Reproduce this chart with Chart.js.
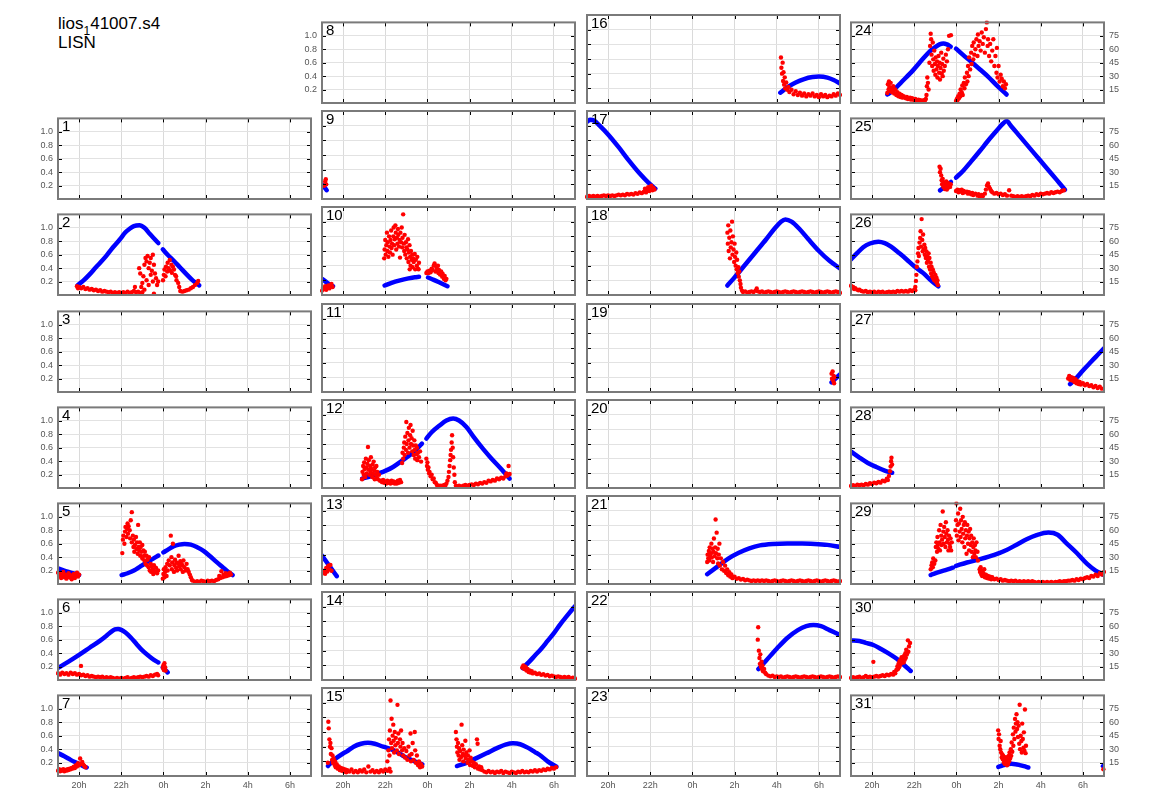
<!DOCTYPE html>
<html>
<head>
<meta charset="utf-8">
<script src="https://cdn.jsdelivr.net/npm/chart.js@4.4.1/dist/chart.umd.min.js"></script>
<style>
html,body{margin:0;padding:0;background:#fff;}
#wrap{position:relative;width:1150px;height:800px;background:#fff;overflow:hidden;}
#wrap canvas{position:absolute;}
#title{position:absolute;left:58px;top:14px;font:17px 'Liberation Sans',Arial,sans-serif;color:#000;line-height:19px;}
#title sub{font-size:12px;vertical-align:-6px;line-height:0;}
</style>
</head>
<body>
<div id="wrap">
<div id="title">lios<sub>1</sub>41007.s4<br>LISN</div>
</div>
<script>
// ---------- axis ticks ----------
const xTickValues=[20,22,24,26,28,30];
const xTickLabels=['20h','22h','0h','2h','4h','6h'];
const yTickValues=[0.2,0.4,0.6,0.8,1.0];
const yTickLabels=['0.2','0.4','0.6','0.8','1.0'];
const y2TickValues=[15,30,45,60,75];
const y2TickLabels=['15','30','45','60','75'];
const dayNumbers=[1,2,3,4,5,6,7,8,9,10,11,12,13,14,15,16,17,18,19,20,21,22,23,24,25,26,27,28,29,30,31];

// ---------- data: red = S4 (left axis), blue = elevation (right axis), x = hour (0h = 24) ----------
const s4_01=[]; const el_01=[];
const s4_02=[[19.9,.13],[19.95,.10],[20.0,.12],[20.1,.10],[20.2,.12],[20.3,.09],[20.4,.10],[20.5,.08],[20.6,.09],[20.7,.07],[20.8,.08],[20.9,.06],[21.0,.07],[21.1,.05],[21.2,.06],[21.3,.05],[21.4,.04],[21.5,.05],[21.6,.03],[21.7,.04],[21.8,.03],[21.9,.04],[22.0,.03],[22.1,.04],[22.2,.03],[22.3,.05],[22.4,.03],[22.5,.04],[22.6,.06],[22.65,.12],[22.7,.04],[22.8,.05],[22.9,.03],[23.0,.04],
[22.85,.40],[22.9,.32],[22.95,.12],[23.0,.18],[23.05,.28],[23.1,.08],[23.1,.45],[23.15,.55],[23.2,.50],[23.2,.22],[23.25,.58],[23.3,.40],[23.3,.15],[23.35,.48],[23.4,.55],[23.4,.30],[23.45,.36],[23.5,.60],[23.5,.20],[23.55,.45],[23.55,.02],[23.6,.32],[23.65,.25],[23.7,.15],[23.75,.20],
[23.98,.22],[24.02,.30],[24.05,.38],[24.1,.28],[24.12,.42],[24.18,.35],[24.2,.48],[24.25,.40],[24.3,.52],[24.32,.36],[24.38,.45],[24.4,.33],[24.45,.42],[24.5,.38],[24.55,.30],[24.6,.28],[24.62,.22],[24.7,.18],[24.75,.12],
[24.8,.06],[24.9,.05],[25.0,.06],[25.1,.07],[25.2,.08],[25.3,.10],[25.4,.12],[25.5,.15],[25.6,.18],[25.65,.21]];
const el_02=[[19.92,10.7],[20.2,16],[20.5,23],[20.8,31],[21.0,36],[21.3,44],[21.6,53],[21.93,62],[22.2,70],[22.4,74],[22.6,77],[22.86,78],[23.1,75],[23.36,68],[23.6,62],[23.76,58],null,[23.97,51],[24.2,45],[24.5,38],[24.78,31],[25.1,23],[25.4,16],[25.7,10.7]];
const s4_03=[]; const el_03=[];
const s4_04=[]; const el_04=[];
const s4_05=[[19.0,.17],[19.05,.12],[19.1,.15],[19.15,.09],[19.2,.13],[19.25,.18],[19.3,.10],[19.35,.14],[19.4,.08],[19.45,.12],[19.5,.16],[19.55,.10],[19.6,.13],[19.65,.07],[19.7,.11],[19.75,.15],[19.8,.09],[19.85,.12],[19.9,.17],[19.95,.11],[20.0,.14],
[22.05,.46],[22.08,.66],[22.1,.72],[22.15,.60],[22.18,.78],[22.2,.85],[22.25,.70],[22.28,.82],[22.3,.90],[22.32,.75],[22.35,.86],[22.4,.80],[22.42,.68],[22.45,.95],[22.5,1.07],[22.5,.62],[22.55,.72],[22.58,.55],[22.6,.66],[22.62,.48],[22.65,.58],[22.7,.70],[22.72,.52],[22.75,.62],[22.78,.45],[22.8,.88],[22.82,.55],[22.85,.50],[22.88,.62],[22.9,.42],[22.92,.55],[22.95,.48],[23.0,.58],[23.0,.38],[23.05,.50],[23.08,.42],[23.1,.35],[23.12,.48],[23.15,.30],[23.2,.42],[23.22,.28],[23.25,.36],[23.3,.25],[23.32,.40],[23.35,.20],[23.4,.30],[23.42,.18],[23.45,.26],[23.5,.22],[23.52,.15],[23.55,.28],[23.6,.18],[23.65,.24],[23.7,.16],[23.75,.20],
[23.97,.08],[24.0,.15],[24.02,.22],[24.05,.10],[24.08,.18],[24.1,.25],[24.15,.12],[24.18,.30],[24.2,.20],[24.25,.35],[24.3,.28],[24.35,.72],[24.38,.40],[24.4,.22],[24.42,.32],[24.45,.60],[24.5,.18],[24.52,.28],[24.55,.36],[24.6,.24],[24.62,.32],[24.65,.20],[24.7,.30],[24.72,.42],[24.75,.26],[24.8,.34],[24.82,.22],[24.85,.30],[24.9,.28],[24.92,.18],[24.95,.35],[25.0,.25],[25.05,.20],[25.1,.30],[25.15,.22],[25.2,.18],[25.25,.14],[25.3,.10],[25.35,.06],
[25.4,.05],[25.5,.03],[25.6,.04],[25.7,.03],[25.8,.05],[25.9,.04],[26.0,.03],[26.1,.05],[26.2,.04],[26.3,.05],[26.4,.04],[26.5,.06],[26.6,.07],[26.65,.12],[26.7,.09],[26.75,.19],[26.8,.10],[26.85,.14],[26.9,.11],[26.95,.16],[27.0,.12],[27.05,.15],[27.1,.13],[27.15,.17],[27.2,.14]];
const el_05=[[19.0,17.5],[19.5,13.5],[20.0,10],null,[22.02,10],[22.3,12],[22.6,15],[22.88,19.2],[23.2,24],[23.5,28],[23.76,31.8],null,[24.0,35.3],[24.25,39],[24.47,42],[24.75,44],[25.0,44.8],[25.3,44],[25.6,41],[25.9,37],[26.2,31.2],[26.5,25],[26.8,19],[27.05,14],[27.28,10]];
const s4_06=[[19.0,.10],[19.1,.08],[19.2,.11],[19.3,.09],[19.4,.10],[19.5,.08],[19.6,.11],[19.7,.09],[19.8,.10],[19.9,.08],[20.0,.09],[20.09,.21],[20.1,.07],[20.2,.08],[20.3,.06],[20.4,.07],[20.5,.05],[20.6,.06],[20.7,.05],[20.8,.04],[20.9,.05],[21.0,.04],[21.1,.05],[21.2,.03],[21.3,.04],[21.4,.03],[21.5,.04],[21.6,.03],[21.7,.02],[21.8,.03],[21.9,.02],[22.0,.03],[22.1,.02],[22.2,.03],[22.3,.04],[22.4,.02],[22.5,.03],[22.6,.04],[22.7,.03],[22.8,.04],[22.9,.05],[23.0,.04],[23.1,.05],[23.2,.06],[23.3,.05],[23.4,.07],[23.5,.06],[23.6,.08],[23.7,.09],[23.75,.07],
[23.98,.18],[24.0,.22],[24.02,.15],[24.05,.25],[24.08,.19],[24.1,.14]];
const el_06=[[19.0,13.5],[19.5,20.5],[20.0,28],[20.5,36],[21.0,44],[21.3,49.5],[21.5,53.5],[21.7,56.5],[21.85,57],[22.0,56],[22.2,53],[22.45,47.5],[22.73,40],[23.0,33],[23.3,27],[23.55,22.5],[23.76,19.6],null,[23.97,14],[24.1,11],[24.2,8.5]];
const s4_07=[[19.0,.08],[19.05,.10],[19.1,.07],[19.15,.09],[19.2,.08],[19.25,.10],[19.3,.07],[19.35,.09],[19.4,.08],[19.45,.10],[19.5,.09],[19.55,.11],[19.6,.10],[19.65,.12],[19.7,.11],[19.75,.14],[19.8,.12],[19.85,.16],[19.9,.14],[19.95,.19],[20.0,.16],[20.05,.26],[20.1,.18],[20.15,.21],[20.2,.17],[20.25,.15],[20.3,.13]];
const el_07=[[19.0,25.6],[19.3,22],[19.6,18],[19.9,14.5],[20.2,11],[20.36,9.5]];
const s4_08=[]; const el_08=[];
const s4_09=[[19.1,.18],[19.15,.24],[19.18,.27],[19.2,.20]];
const el_09=[[19.0,15],[19.12,12],[19.22,9]];
const s4_10=[[19.0,.06],[19.05,.10],[19.1,.08],[19.15,.12],[19.2,.07],[19.25,.10],[19.3,.13],[19.35,.09],[19.4,.12],[19.45,.15],[19.5,.11],
[21.95,.50],[21.97,.62],[22.0,.75],[22.02,.55],[22.05,.68],[22.08,.85],[22.1,.60],[22.12,.72],[22.15,.52],[22.18,.80],[22.2,.66],[22.22,.58],[22.25,.75],[22.28,.88],[22.3,.64],[22.32,.70],[22.35,.55],[22.38,.80],[22.4,.92],[22.42,.68],[22.45,.76],[22.48,.95],[22.5,.85],[22.52,.62],[22.55,.78],[22.58,.70],[22.6,.90],[22.62,.82],[22.65,.66],[22.68,.75],[22.7,.51],[22.72,.85],[22.75,.72],[22.78,.92],[22.8,.65],[22.82,.78],[22.85,1.1],[22.88,.70],[22.9,.60],[22.92,.82],[22.95,.55],[22.98,.72],[23.0,.65],[23.02,.50],[23.05,.62],[23.08,.76],[23.1,.45],[23.12,.58],[23.15,.68],[23.16,.35],[23.18,.52],[23.2,.40],[23.22,.60],[23.25,.48],[23.28,.55],[23.3,.38],[23.32,.50],[23.35,.45],[23.4,.56],[23.42,.35],[23.45,.48],[23.5,.40],[23.52,.52],[23.55,.36],[23.58,.35],[23.6,.44],
[23.95,.30],[24.0,.32],[24.05,.30],[24.1,.33],[24.15,.31],[24.2,.36],[24.25,.34],[24.3,.40],[24.34,.43],[24.38,.32],[24.42,.39],[24.45,.36],[24.5,.40],[24.52,.30],[24.55,.34],[24.6,.28],[24.65,.32],[24.7,.25],[24.72,.29],[24.78,.22],[24.82,.26],[24.86,.20],[24.9,.22]];
const el_10=[[19.0,16.6],[19.25,12.5],[19.52,9],null,[21.97,9.7],[22.3,12.5],[22.7,15],[23.1,17],[23.4,18.2],[23.6,18.6],null,[24.03,17.9],[24.3,15.5],[24.6,12.5],[24.95,9]];
const s4_11=[]; const el_11=[];
const s4_12=[[20.9,.12],[20.92,.22],[20.95,.30],[20.98,.18],[21.0,.35],[21.02,.26],[21.05,.15],[21.08,.40],[21.1,.28],[21.12,.20],[21.15,.33],[21.18,.56],[21.2,.25],[21.22,.38],[21.25,.18],[21.28,.30],[21.3,.22],[21.32,.42],[21.35,.26],[21.38,.15],[21.4,.32],[21.42,.20],[21.45,.36],[21.48,.24],[21.5,.12],[21.52,.28],[21.55,.18],[21.58,.30],[21.6,.14],[21.62,.22],[21.65,.12],[21.7,.18],[21.75,.10],
[21.8,.10],[21.85,.08],[21.9,.11],[21.95,.07],[22.0,.09],[22.05,.06],[22.1,.10],[22.15,.07],[22.2,.09],[22.25,.06],[22.3,.10],[22.35,.07],[22.4,.09],[22.45,.06],[22.5,.08],[22.55,.06],[22.6,.10],[22.65,.07],[22.7,.11],[22.75,.08],
[22.8,.34],[22.82,.48],[22.85,.40],[22.88,.55],[22.9,.62],[22.92,.45],[22.95,.70],[22.98,.52],[23.0,.90],[23.02,.60],[23.05,.75],[23.08,.48],[23.1,.65],[23.12,.82],[23.15,.55],[23.18,.72],[23.2,.86],[23.22,.60],[23.25,.68],[23.28,.50],[23.3,.78],[23.32,.58],[23.35,.45],[23.38,.65],[23.4,.52],[23.42,.40],[23.45,.58],[23.48,.46],[23.5,.55],[23.52,.38],[23.55,.48],[23.6,.42],[23.65,.50],[23.7,.36],
[23.95,.40],[23.98,.30],[24.0,.35],[24.02,.25],[24.05,.28],[24.08,.20],[24.1,.22],[24.15,.16],[24.2,.18],[24.25,.12],[24.3,.13],[24.35,.08],[24.4,.07],[24.45,.04],[24.5,.03],[24.55,.02],[24.6,.03],[24.65,.02],[24.7,.03],[24.75,.02],[24.8,.04],[24.85,.03],[24.9,.06],[24.95,.10],
[25.0,.15],[25.02,.22],[25.05,.30],[25.08,.38],[25.1,.45],[25.12,.52],[25.15,.62],[25.17,.72],[25.2,.55],[25.22,.42],[25.25,.28],[25.28,.18],[25.3,.08],
[25.35,.03],[25.4,.02],[25.5,.03],[25.6,.02],[25.7,.03],[25.8,.04],[25.9,.03],[26.0,.04],[26.1,.05],[26.2,.04],[26.3,.06],[26.4,.05],[26.5,.07],[26.6,.06],[26.7,.08],[26.8,.07],[26.9,.10],[27.0,.09],[27.1,.11],[27.2,.10],[27.3,.13],[27.4,.12],[27.5,.14],[27.6,.13],[27.7,.16],[27.75,.20],[27.8,.17],[27.85,.30],[27.9,.19]];
const el_12=[[20.9,9.6],[21.3,12],[21.7,15],[22.0,17.5],[22.37,21.5],[22.8,28],[23.16,33.4],[23.45,39],[23.74,45.4],null,[23.95,50.5],[24.2,57],[24.58,64],[24.9,69],[25.22,71],[25.5,69],[25.85,62.4],[26.2,52],[26.64,40],[27.0,31],[27.5,19.5],[27.9,9.6]];
const s4_13=[[19.05,.15],[19.1,.18],[19.15,.14],[19.2,.22],[19.25,.17],[19.3,.25],[19.35,.20],[19.4,.26],[19.45,.18]];
const el_13=[[19.0,29],[19.2,23],[19.4,17],[19.6,11],[19.7,8]];
const s4_14=[[28.5,.17],[28.55,.20],[28.6,.15],[28.65,.18],[28.7,.13],[28.75,.15],[28.8,.11],[28.85,.13],[28.9,.10],[28.95,.12],[29.0,.09],[29.1,.10],[29.2,.08],[29.3,.09],[29.4,.07],[29.5,.08],[29.6,.06],[29.7,.07],[29.8,.05],[29.9,.06],[30.0,.05],[30.1,.04],[30.2,.05],[30.3,.04],[30.4,.03],[30.5,.04],[30.6,.03],[30.7,.04],[30.8,.02],[30.9,.03],[31.0,.02]];
const el_14=[[28.52,12.2],[28.8,18],[29.1,25],[29.4,32],[29.7,40],[30.0,48],[30.3,57],[30.6,65],[31.0,75.6]];
const s4_15=[[19.28,.18],[19.3,.74],[19.32,.65],[19.35,.50],[19.38,.40],[19.4,.45],[19.42,.30],[19.45,.38],[19.48,.22],[19.5,.28],[19.52,.18],[19.55,.24],[19.6,.15],[19.62,.20],[19.65,.12],[19.7,.16],[19.75,.10],
[19.8,.13],[19.85,.08],[19.9,.11],[19.95,.07],[20.0,.10],[20.05,.06],[20.1,.09],[20.15,.05],[20.2,.08],[20.3,.06],[20.4,.09],[20.5,.05],[20.6,.07],[20.7,.05],[20.8,.08],[20.9,.06],[21.0,.09],[21.1,.05],[21.2,.13],[21.3,.06],[21.4,.08],[21.5,.05],[21.6,.07],[21.7,.05],[21.8,.08],[21.9,.06],[22.0,.09],[22.1,.07],[22.2,.10],[22.25,.06],
[22.1,.20],[22.15,.35],[22.18,.50],[22.2,.28],[22.22,.62],[22.25,1.03],[22.28,.45],[22.3,.78],[22.32,.38],[22.35,.55],[22.38,.70],[22.4,.48],[22.42,.32],[22.45,.60],[22.48,.42],[22.5,.52],[22.55,.35],[22.58,.97],[22.6,.45],[22.62,.58],[22.65,.30],[22.7,.50],[22.72,.40],[22.75,.62],[22.8,.35],[22.82,.45],[22.85,.28],[22.9,.38],[22.95,.25],[23.0,.34],[23.05,.22],[23.1,.40],[23.15,.28],[23.2,.58],[23.22,.20],[23.25,.30],[23.3,.45],[23.35,.22],[23.4,.60],[23.42,.35],[23.45,.18],[23.5,.28],[23.55,.15],[23.6,.20],[23.65,.12],[23.7,.16],[23.75,.13],
[25.35,.60],[25.38,.50],[25.4,.40],[25.42,.32],[25.45,.45],[25.48,.28],[25.5,.38],[25.52,.22],[25.55,.34],[25.6,.26],[25.62,.70],[25.65,.42],[25.68,.30],[25.7,.20],[25.72,.36],[25.75,.28],[25.8,.48],[25.82,.24],[25.85,.32],[25.9,.18],[25.92,.28],[25.95,.22],[26.0,.35],[26.02,.15],[26.05,.25],[26.1,.20],[26.15,.14],[26.2,.18],[26.25,.12],[26.3,.16],[26.35,.50],[26.38,.44],[26.4,.10],[26.45,.13],[26.5,.09],[26.55,.12],[26.6,.08],
[26.7,.06],[26.8,.05],[26.9,.07],[27.0,.05],[27.1,.06],[27.2,.04],[27.3,.06],[27.4,.05],[27.5,.07],[27.6,.04],[27.7,.06],[27.8,.05],[27.9,.04],[28.0,.06],[28.1,.05],[28.2,.04],[28.3,.06],[28.4,.05],[28.5,.07],[28.6,.05],[28.7,.06],[28.8,.05],[28.9,.07],[29.0,.06],[29.1,.08],[29.2,.06],[29.3,.08],[29.4,.07],[29.5,.09],[29.6,.08],[29.7,.10],[29.8,.09],[29.9,.11],[30.0,.10],[30.1,.12]];
const el_15=[[19.28,10.2],[19.6,17],[20.0,23],[20.16,24.9],[20.5,30],[20.85,33],[21.18,34],[21.5,33],[21.9,30],[22.2,28],[22.53,24.9],[22.9,20],[23.3,16],[23.76,11.9],null,[25.4,10.2],[25.8,13],[26.3,18],[26.8,23.2],[27.3,28.5],[27.7,32],[28.06,33.4],[28.4,32.5],[28.8,28.5],[29.1,24.5],[29.33,21.5],[29.7,15],[30.12,9.5]];
const s4_16=[[28.2,.62],[28.22,.48],[28.25,.40],[28.28,.55],[28.3,.30],[28.32,.42],[28.35,.25],[28.38,.35],[28.4,.20],[28.45,.28],[28.5,.18],[28.55,.22],[28.6,.15],[28.7,.18],[28.8,.12],[28.9,.16],[29.0,.11],[29.1,.14],[29.2,.10],[29.3,.13],[29.4,.09],[29.5,.12],[29.6,.10],[29.7,.13],[29.8,.09],[29.9,.11],[30.0,.08],[30.1,.12],[30.2,.09],[30.3,.11],[30.4,.08],[30.5,.10],[30.6,.09],[30.7,.12],[30.8,.10],[30.9,.13],[31.0,.11]];
const el_16=[[28.17,10.5],[28.5,16],[28.9,21],[29.3,24.5],[29.7,26.5],[30.0,27],[30.4,26],[30.7,23.5],[31.0,20]];
const s4_17=[[19.0,.03],[19.1,.04],[19.2,.03],[19.3,.04],[19.4,.03],[19.5,.04],[19.6,.03],[19.7,.04],[19.8,.05],[19.9,.04],[20.0,.05],[20.1,.04],[20.2,.05],[20.3,.04],[20.4,.05],[20.5,.06],[20.6,.05],[20.7,.06],[20.8,.05],[20.9,.07],[21.0,.06],[21.1,.07],[21.2,.06],[21.3,.08],[21.4,.07],[21.5,.09],[21.6,.08],[21.7,.10],[21.75,.14],[21.8,.09],[21.85,.12],[21.9,.16],[21.95,.11],[22.0,.14],[22.05,.18],[22.1,.12],[22.15,.15],[22.2,.13]];
const el_17=[[19.0,79],[19.15,81],[19.35,80],[19.6,75],[20.0,66],[20.5,53],[21.0,39],[21.5,26],[21.9,17],[22.24,10.6]];
const s4_18=[[25.66,.85],[25.68,.70],[25.7,.95],[25.72,.60],[25.75,.78],[25.78,.50],[25.8,.88],[25.82,.65],[25.85,.72],[25.88,1.0],[25.9,.55],[25.92,.80],[25.95,.62],[25.98,.45],[26.0,.70],[26.02,.52],[26.05,.40],[26.08,.58],[26.1,.35],[26.12,.48],[26.15,.30],[26.18,.38],[26.2,.25],[26.22,.32],[26.25,.20],[26.28,.15],[26.3,.10],[26.35,.06],
[26.4,.04],[26.5,.05],[26.6,.03],[26.7,.04],[26.8,.05],[26.9,.04],[27.0,.06],[27.05,.09],[27.1,.05],[27.2,.04],[27.3,.05],[27.4,.03],[27.5,.04],[27.6,.05],[27.7,.04],[27.8,.03],[27.9,.04],[28.0,.05],[28.1,.04],[28.2,.03],[28.3,.04],[28.4,.05],[28.5,.04],[28.6,.03],[28.7,.04],[28.8,.05],[28.9,.04],[29.0,.03],[29.1,.04],[29.2,.05],[29.3,.04],[29.4,.03],[29.5,.04],[29.6,.05],[29.7,.04],[29.8,.03],[29.9,.04],[30.0,.05],[30.1,.04],[30.2,.03],[30.3,.04],[30.4,.05],[30.5,.04],[30.6,.03],[30.7,.04],[30.8,.05],[30.9,.04],[31.0,.03]];
const el_18=[[25.66,9.7],[26.0,18],[26.5,31],[27.0,44],[27.5,57],[27.9,68],[28.2,75],[28.41,77.2],[28.7,75],[29.1,67],[29.5,57],[30.0,45],[30.5,35],[31.0,27.1]];
const s4_19=[[30.6,.25],[30.62,.18],[30.65,.28],[30.68,.15],[30.7,.22],[30.72,.12],[30.75,.20]];
const el_19=[[30.6,9.8],[30.8,14],[31.0,18]];
const s4_20=[]; const el_20=[];
const s4_21=[[24.7,.30],[24.72,.40],[24.75,.35],[24.78,.45],[24.8,.32],[24.82,.50],[24.85,.38],[24.88,.42],[24.9,.55],[24.92,.36],[24.95,.48],[24.98,.30],[25.0,.44],[25.02,.62],[25.05,.38],[25.08,.50],[25.1,.88],[25.12,.42],[25.15,.70],[25.18,.35],[25.2,.48],[25.22,.28],[25.25,.40],[25.28,.55],[25.3,.25],[25.35,.35],[25.4,.20],[25.45,.30],[25.5,.18],[25.55,.25],[25.6,.15],[25.65,.20],[25.7,.12],[25.75,.16],[25.8,.10],[25.85,.13],[25.9,.08],[26.0,.10],[26.1,.07],[26.2,.08],[26.3,.06],[26.4,.07],[26.5,.05],[26.6,.06],[26.7,.05],[26.8,.04],[26.9,.05],[27.0,.04],[27.1,.05],[27.2,.04],[27.3,.05],[27.4,.04],[27.5,.05],[27.6,.04],[27.7,.03],[27.8,.04],[27.9,.05],[28.0,.04],[28.1,.03],[28.2,.04],[28.3,.05],[28.4,.04],[28.5,.03],[28.6,.04],[28.7,.05],[28.8,.04],[28.9,.03],[29.0,.04],[29.1,.05],[29.2,.04],[29.3,.03],[29.4,.04],[29.5,.05],[29.6,.04],[29.7,.03],[29.8,.04],[29.9,.05],[30.0,.04],[30.1,.03],[30.2,.04],[30.3,.05],[30.4,.04],[30.5,.03],[30.6,.04],[30.7,.05],[30.8,.04],[30.9,.03],[31.0,.04]];
const el_21=[[24.7,10],[25.2,18],[25.7,26],[26.2,32],[26.7,36.5],[27.2,39.5],[27.8,41],[28.5,41.5],[29.2,41.5],[29.8,41],[30.4,40],[31.0,38]];
const s4_22=[[27.1,.55],[27.12,.72],[27.15,.40],[27.18,.30],[27.2,.22],[27.22,.35],[27.25,.18],[27.28,.25],[27.3,.15],[27.32,.20],[27.35,.12],[27.4,.15],[27.45,.10],[27.5,.08],[27.6,.06],[27.7,.05],[27.8,.06],[27.9,.04],[28.0,.05],[28.1,.04],[28.2,.05],[28.3,.03],[28.4,.04],[28.5,.05],[28.6,.04],[28.7,.03],[28.8,.04],[28.9,.05],[29.0,.04],[29.1,.03],[29.2,.04],[29.3,.05],[29.4,.04],[29.5,.03],[29.6,.04],[29.7,.05],[29.8,.04],[29.9,.03],[30.0,.04],[30.1,.05],[30.2,.04],[30.3,.03],[30.4,.04],[30.5,.05],[30.6,.04],[30.7,.03],[30.8,.04],[30.9,.05],[31.0,.04]];
const el_22=[[27.13,11.2],[27.5,20],[28.0,32],[28.5,43],[29.0,51],[29.4,55],[29.74,56.2],[30.1,55],[30.5,51],[31.0,46]];
const s4_23=[]; const el_23=[];
const s4_24=[[20.72,.15],[20.75,.28],[20.78,.20],[20.8,.32],[20.82,.24],[20.85,.18],[20.88,.30],[20.9,.22],[20.95,.16],[21.0,.25],[21.02,.19],[21.05,.14],[21.1,.20],[21.15,.12],[21.2,.16],[21.25,.10],[21.3,.14],[21.35,.09],[21.4,.12],[21.45,.08],[21.5,.10],[21.6,.07],[21.65,.09],[21.7,.06],[21.8,.08],[21.85,.05],[21.9,.07],[22.0,.04],[22.05,.06],[22.1,.03],[22.2,.05],[22.25,.03],[22.3,.04],[22.4,.02],[22.45,.04],[22.5,.03],[22.55,.06],
[22.58,.12],[22.6,.25],[22.62,.38],[22.65,.30],[22.68,.20],
[22.72,.60],[22.75,.85],[22.78,1.03],[22.8,.95],[22.82,.72],[22.85,.55],[22.88,.90],[22.9,.65],[22.92,.48],[22.95,.78],[22.98,.58],[23.0,.42],[23.02,.68],[23.05,.50],[23.08,.62],[23.1,.38],[23.12,.55],[23.15,.70],[23.18,.45],[23.2,.60],[23.22,.35],[23.25,.52],[23.28,.75],[23.3,.44],[23.32,.58],[23.35,.40],[23.38,.66],[23.4,.48],[23.45,.55],[23.5,.72],[23.55,.62],[23.6,.80],[23.65,1.0],[23.74,1.01],
[23.98,.03],[24.02,.06],[24.05,.04],[24.08,.10],[24.12,.07],[24.15,.14],[24.18,.10],[24.2,.20],[24.25,.16],[24.28,.26],[24.3,.12],[24.35,.30],[24.38,.22],[24.4,.38],[24.45,.28],[24.5,.45],[24.52,.32],[24.55,.55],[24.58,.40],[24.6,.68],[24.65,.50],[24.7,.75],[24.72,.58],[24.75,.85],[24.8,.65],[24.82,.90],[24.85,.72],[24.9,.80],[24.95,.95],[25.0,.70],[25.02,1.02],[25.05,.85],[25.1,.92],[25.15,.78],[25.2,1.05],[25.25,.88],[25.3,.98],[25.35,.75],[25.4,1.1],[25.44,1.2],[25.48,.85],[25.5,.95],[25.55,.70],[25.6,.88],[25.65,.62],[25.7,.78],[25.75,.95],[25.8,.55],[25.85,.70],[25.9,.45],[25.92,.82],[25.95,.38],[26.0,.55],[26.05,.32],[26.1,.42],[26.15,.36],[26.2,.25],[26.25,.32],[26.3,.22],[26.35,.28]];
const el_24=[[20.72,9.5],[21.0,14],[21.4,23.5],[21.96,37],[22.4,49],[22.75,57.9],[23.0,62.5],[23.2,65.5],[23.38,66.5],[23.55,65.5],[23.73,63],null,[23.98,60.7],[24.3,54],[24.7,46],[25.12,37.4],[25.5,29.5],[25.9,20],[26.38,9.5]];
const s4_25=[[23.2,.48],[23.22,.40],[23.25,.45],[23.28,.35],[23.3,.28],[23.32,.22],[23.35,.30],[23.38,.18],[23.4,.25],[23.42,.20],[23.45,.15],[23.48,.22],[23.5,.18],[23.52,.26],[23.55,.14],[23.58,.20],[23.6,.24],[23.62,.17],[23.65,.21],[23.7,.18],[23.73,.22],
[23.98,.12],[24.05,.14],[24.1,.10],[24.15,.13],[24.2,.11],[24.25,.14],[24.3,.09],[24.35,.12],[24.4,.10],[24.5,.11],[24.55,.08],[24.6,.10],[24.7,.07],[24.75,.09],[24.8,.06],[24.9,.08],[25.0,.05],[25.05,.07],[25.1,.04],[25.2,.06],[25.25,.04],
[25.35,.08],[25.4,.14],[25.45,.20],[25.5,.23],[25.55,.18],[25.6,.15],[25.65,.12],[25.7,.10],[25.8,.08],[25.9,.09],[26.0,.07],[26.1,.08],[26.2,.06],[26.3,.07],[26.4,.05],[26.5,.13],[26.6,.05],[26.7,.04],[26.8,.03],[26.9,.04],[27.0,.03],[27.1,.04],[27.2,.03],[27.3,.04],[27.4,.05],[27.5,.04],[27.6,.06],[27.7,.05],[27.8,.07],[27.9,.06],[28.0,.08],[28.1,.07],[28.2,.08],[28.3,.09],[28.4,.08],[28.5,.10],[28.6,.09],[28.7,.10],[28.8,.11],[28.9,.10],[29.0,.12],[29.1,.13]];
const el_25=[[23.22,9.6],[23.5,14.5],[23.74,19.1],null,[23.98,23.9],[24.3,31],[24.7,42],[25.12,53.9],[25.5,65],[25.9,76],[26.2,84],[26.38,87],[26.6,81.3],[27.0,70.2],[27.5,56.3],[27.97,43.2],[28.5,28.5],[28.9,17.3],[29.15,10.3]];
const s4_26=[[19.0,.14],[19.05,.11],[19.1,.12],[19.15,.09],[19.2,.10],[19.3,.08],[19.35,.07],[19.4,.08],[19.5,.06],[19.6,.05],[19.7,.06],[19.8,.04],[19.9,.05],[20.0,.04],[20.1,.05],[20.2,.03],[20.3,.05],[20.4,.04],[20.5,.05],[20.6,.03],[20.7,.04],[20.8,.05],[20.9,.04],[21.0,.05],[21.1,.04],[21.2,.06],[21.3,.05],[21.4,.06],[21.5,.05],[21.6,.06],[21.7,.05],[21.8,.07],[21.9,.06],[22.0,.08],[22.05,.07],
[22.05,.12],[22.08,.21],[22.1,.30],[22.12,.42],[22.15,.50],[22.18,.62],[22.2,.70],[22.22,.58],[22.25,.78],[22.28,.85],[22.3,.95],[22.32,.72],[22.35,1.13],[22.38,.82],[22.4,.65],[22.42,.90],[22.45,.68],[22.48,.75],[22.5,.60],[22.52,.70],[22.55,.55],[22.58,.65],[22.6,.48],[22.62,.58],[22.65,.52],[22.68,.62],[22.7,.42],[22.72,.55],[22.75,.38],[22.78,.48],[22.8,.32],[22.82,.42],[22.85,.28],[22.88,.38],[22.9,.25],[22.92,.34],[22.95,.22],[23.0,.30],[23.02,.20],[23.05,.26],[23.08,.18],[23.1,.22],[23.12,.15]];
const el_26=[[19.0,39.7],[19.3,47],[19.58,53.4],[19.9,57.5],[20.3,59.5],[20.6,58],[20.9,54],[21.3,46.5],[21.64,39.7],[22.0,32],[22.43,24.4],[22.8,16],[23.14,9.7]];
const s4_27=[[29.3,.20],[29.35,.24],[29.4,.18],[29.45,.22],[29.5,.17],[29.55,.21],[29.6,.15],[29.65,.19],[29.7,.13],[29.75,.16],[29.8,.12],[29.85,.15],[29.9,.11],[30.0,.13],[30.1,.10],[30.2,.12],[30.3,.09],[30.4,.10],[30.5,.07],[30.6,.09],[30.7,.06],[30.8,.08],[30.9,.05]];
const el_27=[[29.39,8.8],[29.7,16],[30.0,24],[30.3,31.5],[30.6,39],[31.0,48.7]];
const s4_28=[[19.0,.03],[19.1,.04],[19.2,.03],[19.3,.05],[19.4,.04],[19.5,.05],[19.6,.04],[19.7,.06],[19.8,.05],[19.9,.07],[20.0,.06],[20.1,.08],[20.2,.07],[20.3,.09],[20.4,.08],[20.5,.11],[20.6,.10],[20.7,.14],[20.75,.12],[20.8,.18],[20.85,.25],[20.88,.32],[20.9,.40],[20.92,.45],[20.95,.35]];
const el_28=[[19.0,40.6],[19.4,34],[19.8,28],[20.2,23.5],[20.6,19.5],[20.95,17]];
const s4_29=[[22.78,.22],[22.82,.28],[22.85,.32],[22.88,.25],[22.9,.38],[22.95,.30],[23.0,.35],
[23.02,.55],[23.05,.62],[23.08,.48],[23.1,.70],[23.12,.58],[23.15,.52],[23.18,.80],[23.2,.62],[23.22,.50],[23.25,.88],[23.28,.72],[23.3,.58],[23.32,.66],[23.35,1.08],[23.38,.78],[23.4,.60],[23.42,.85],[23.45,.70],[23.48,.55],[23.5,.92],[23.52,.75],[23.55,.62],[23.58,.80],[23.6,.66],[23.62,.50],[23.65,.72],[23.68,.60],[23.7,.55],[23.72,.68],[23.75,.50],[23.78,.62],
[23.95,.80],[23.98,.95],[24.0,1.2],[24.02,.72],[24.05,.88],[24.08,1.05],[24.1,.65],[24.12,.90],[24.15,.78],[24.18,1.12],[24.2,.70],[24.22,.95],[24.25,.82],[24.28,.62],[24.3,1.0],[24.32,.75],[24.35,.88],[24.38,.55],[24.4,.92],[24.42,.68],[24.45,.80],[24.48,.45],[24.5,.72],[24.52,.88],[24.55,.60],[24.58,.78],[24.6,.50],[24.62,.68],[24.65,.82],[24.68,.58],[24.7,.72],[24.72,.48],[24.75,.62],[24.78,.40],[24.8,.55],[24.82,.68],[24.85,.45],[24.88,.58],[24.9,.50],[24.92,.40],[24.95,.62],[25.0,.48],[25.02,.35],
[25.1,.22],[25.12,.18],[25.15,.25],[25.18,.14],[25.2,.20],[25.22,.12],[25.25,.18],[25.3,.15],[25.32,.22],[25.35,.10],[25.4,.14],[25.45,.09],[25.5,.12],[25.55,.08],[25.6,.11],[25.65,.07],[25.7,.10],[25.8,.07],[25.9,.08],[26.0,.06],[26.1,.07],[26.2,.05],[26.3,.06],[26.4,.05],[26.5,.04],[26.6,.05],[26.7,.04],[26.8,.05],[26.9,.03],[27.0,.04],[27.1,.03],[27.2,.04],[27.3,.03],[27.4,.04],[27.5,.03],[27.6,.04],[27.7,.03],[27.8,.02],[27.9,.03],[28.0,.02],[28.1,.03],[28.2,.02],[28.3,.03],[28.4,.02],[28.5,.03],[28.6,.02],[28.7,.03],[28.8,.03],[28.9,.04],[29.0,.03],[29.1,.04],[29.2,.04],[29.3,.05],[29.4,.05],[29.5,.06],[29.6,.05],[29.7,.07],[29.8,.06],[29.9,.08],[30.0,.07],[30.1,.09],[30.2,.10],[30.3,.09],[30.4,.12],[30.5,.11],[30.6,.14],[30.7,.12],[30.8,.16],[30.9,.14],[31.0,.18]];
const el_29=[[22.78,10],[23.2,13.5],[23.55,16],[23.83,18.2],null,[23.98,20.3],[24.5,24],[25.12,27.7],[25.8,32.5],[26.38,38],[26.9,44.5],[27.33,49.9],[27.8,54.5],[28.36,57.4],[28.8,55],[29.2,46],[29.71,34.6],[30.2,22.5],[30.6,15],[31.0,10]];
const s4_30=[[19.0,.03],[19.1,.04],[19.2,.03],[19.3,.04],[19.4,.05],[19.5,.03],[19.6,.04],[19.7,.06],[19.8,.04],[19.9,.05],[20.0,.04],[20.06,.27],[20.1,.05],[20.2,.06],[20.3,.05],[20.4,.06],[20.5,.07],[20.6,.06],[20.7,.08],[20.8,.07],[20.9,.09],[21.0,.08],[21.05,.12],[21.1,.10],[21.15,.15],[21.2,.20],[21.22,.16],[21.25,.24],[21.28,.19],[21.3,.28],[21.32,.22],[21.35,.30],[21.38,.25],[21.4,.34],[21.42,.27],[21.45,.31],[21.5,.26],[21.52,.36],[21.55,.30],[21.58,.40],[21.6,.33],[21.62,.45],[21.65,.38],[21.7,.59],[21.72,.42],[21.75,.50],[21.8,.55]];
const el_30=[[19.0,44.2],[19.4,43.5],[19.7,41.5],[20.06,39.1],[20.4,35],[20.8,29.5],[21.17,23.7],[21.5,17],[21.83,10.1]];
const s4_31=[[25.98,.68],[26.0,.55],[26.02,.62],[26.05,.45],[26.08,.40],[26.1,.52],[26.12,.35],[26.15,.28],[26.18,.32],[26.2,.25],[26.22,.30],[26.25,.20],[26.28,.26],[26.3,.18],[26.32,.22],[26.35,.28],[26.38,.20],[26.4,.16],[26.42,.24],[26.45,.18],[26.48,.30],[26.5,.22],[26.52,.35],[26.55,.26],[26.58,.40],[26.6,.30],[26.62,.50],[26.65,.36],[26.68,.62],[26.7,.45],[26.72,.72],[26.75,.55],[26.78,.85],[26.8,.66],[26.82,.78],[26.85,.92],[26.88,.70],[26.9,.80],[26.92,.58],[26.95,.75],[26.98,.48],[27.0,1.06],[27.02,.40],[27.05,.60],[27.08,.52],[27.1,.35],[27.12,.78],[27.15,.55],[27.18,.42],[27.2,.65],[27.22,.38],[27.25,.99],[27.28,.34],[27.3,.45],[30.97,.10]];
const el_31=[[25.99,10.2],[26.2,12],[26.4,13.2],[26.6,13.6],[26.8,13.2],[27.0,12.2],[27.2,11],[27.41,9.5],null,[30.95,11],[31.0,10]];

const S4={1:s4_01,2:s4_02,3:s4_03,4:s4_04,5:s4_05,6:s4_06,7:s4_07,8:s4_08,9:s4_09,10:s4_10,11:s4_11,12:s4_12,13:s4_13,14:s4_14,15:s4_15,16:s4_16,17:s4_17,18:s4_18,19:s4_19,20:s4_20,21:s4_21,22:s4_22,23:s4_23,24:s4_24,25:s4_25,26:s4_26,27:s4_27,28:s4_28,29:s4_29,30:s4_30,31:s4_31};
const EL={1:el_01,2:el_02,3:el_03,4:el_04,5:el_05,6:el_06,7:el_07,8:el_08,9:el_09,10:el_10,11:el_11,12:el_12,13:el_13,14:el_14,15:el_15,16:el_16,17:el_17,18:el_18,19:el_19,20:el_20,21:el_21,22:el_22,23:el_23,24:el_24,25:el_25,26:el_26,27:el_27,28:el_28,29:el_29,30:el_30,31:el_31};

// ---------- layout ----------
const COL_LEFT=[58,322,587,851];
const ROW_TOP=[15,111,207,304,400,496,592,688];
const BOX_W=253, BOX_H=88, SIDE=35, PAD_TOP=3, BOTTOM=16;
const FONT="'Liberation Sans', Arial, Helvetica, sans-serif";
Chart.defaults.font.family=FONT;

function placeOf(d){
  if(d<=7) return [0,d];
  if(d<=15) return [1,d-8];
  if(d<=23) return [2,d-16];
  return [3,d-24];
}
function toPts(arr){
  const out=[];let last=0;
  for(const p of arr){ if(p===null){out.push({x:last,y:null});} else {out.push({x:p[0],y:p[1]});last=p[0];} }
  return out;
}

const framePlugin={
  id:'frame',
  afterDraw(chart){
    const a=chart.chartArea, c=chart.ctx;
    const xs=chart.scales.x, ys=chart.scales.y;
    c.save();
    c.strokeStyle='#000'; c.lineWidth=1;
    c.beginPath();
    for(const v of xTickValues){
      const px=Math.round(xs.getPixelForValue(v))+0.5;
      c.moveTo(px,a.top); c.lineTo(px,a.top+4);
      c.moveTo(px,a.bottom); c.lineTo(px,a.bottom-4);
    }
    for(const v of yTickValues){
      const py=Math.round(ys.getPixelForValue(v))+0.5;
      c.moveTo(a.left,py); c.lineTo(a.left+4,py);
      c.moveTo(a.right,py); c.lineTo(a.right-4,py);
    }
    c.stroke();
    c.strokeStyle='#7a7a7a'; c.lineWidth=2;
    c.strokeRect(a.left,a.top,a.right-a.left,a.bottom-a.top);
    c.fillStyle='#000'; c.font='15px '+FONT; c.textBaseline='alphabetic'; c.textAlign='left';
    c.fillText(String(chart.options.plugins.frame.day),a.left+4,a.top+13);
    c.restore();
  }
};

const wrap=document.getElementById('wrap');
for(const d of dayNumbers){
  const [col,row]=placeOf(d);
  const cv=document.createElement('canvas');
  const W=SIDE*2+BOX_W, H=PAD_TOP+BOX_H+BOTTOM;
  cv.width=W; cv.height=H;
  cv.style.width=W+'px'; cv.style.height=H+'px';
  cv.style.left=(COL_LEFT[col]-SIDE)+'px';
  cv.style.top=(ROW_TOP[row]-PAD_TOP)+'px';
  wrap.appendChild(cv);
  const showLeft=(col===0)||d===8;
  const showRight=(col===3);
  const showBottom=(row===7);
  const tickFont={size:9,family:FONT};
  new Chart(cv,{
    type:'line',
    data:{datasets:[
      {type:'scatter',data:toPts(S4[d]),yAxisID:'y',pointRadius:2.2,pointHoverRadius:2.2,pointBackgroundColor:'#ff0000',pointBorderWidth:0,borderWidth:0,showLine:false,order:0,clip:2},
      {type:'line',data:toPts(EL[d]),yAxisID:'y2',borderColor:'#0000ff',borderWidth:4.5,pointRadius:0,spanGaps:false,cubicInterpolationMode:'monotone',borderCapStyle:'round',borderJoinStyle:'round',order:1}
    ]},
    options:{
      responsive:false, maintainAspectRatio:false, animation:false, devicePixelRatio:1,
      layout:{padding:{top:PAD_TOP,left:0,right:0,bottom:0}},
      plugins:{legend:{display:false},tooltip:{enabled:false},frame:{day:d}},
      events:[],
      scales:{
        x:{type:'linear',min:19,max:31,
          afterBuildTicks:s=>{s.ticks=xTickValues.map(v=>({value:v}));},
          afterFit:s=>{s.height=BOTTOM;},
          ticks:{display:showBottom,autoSkip:false,maxRotation:0,padding:4,color:'#555',font:tickFont,callback:(v,i)=>xTickLabels[i]},
          grid:{color:'#dadada',lineWidth:1,drawTicks:false},border:{display:false}},
        y:{type:'linear',position:'left',min:0,max:1.2,
          afterBuildTicks:s=>{s.ticks=yTickValues.map(v=>({value:v}));},
          afterFit:s=>{s.width=SIDE;},
          ticks:{display:showLeft,padding:5,color:'#555',font:tickFont,callback:(v,i)=>yTickLabels[i]},
          grid:{color:'#e2e2e2',lineWidth:1,drawTicks:false},border:{display:false}},
        y2:{type:'linear',position:'right',min:0,max:90,
          afterBuildTicks:s=>{s.ticks=y2TickValues.map(v=>({value:v}));},
          afterFit:s=>{s.width=SIDE;},
          ticks:{display:showRight,padding:5,color:'#555',font:tickFont,callback:(v,i)=>y2TickLabels[i]},
          grid:{display:false,drawTicks:false},border:{display:false}}
      }
    },
    plugins:[framePlugin]
  });
}
</script>
</body>
</html>
